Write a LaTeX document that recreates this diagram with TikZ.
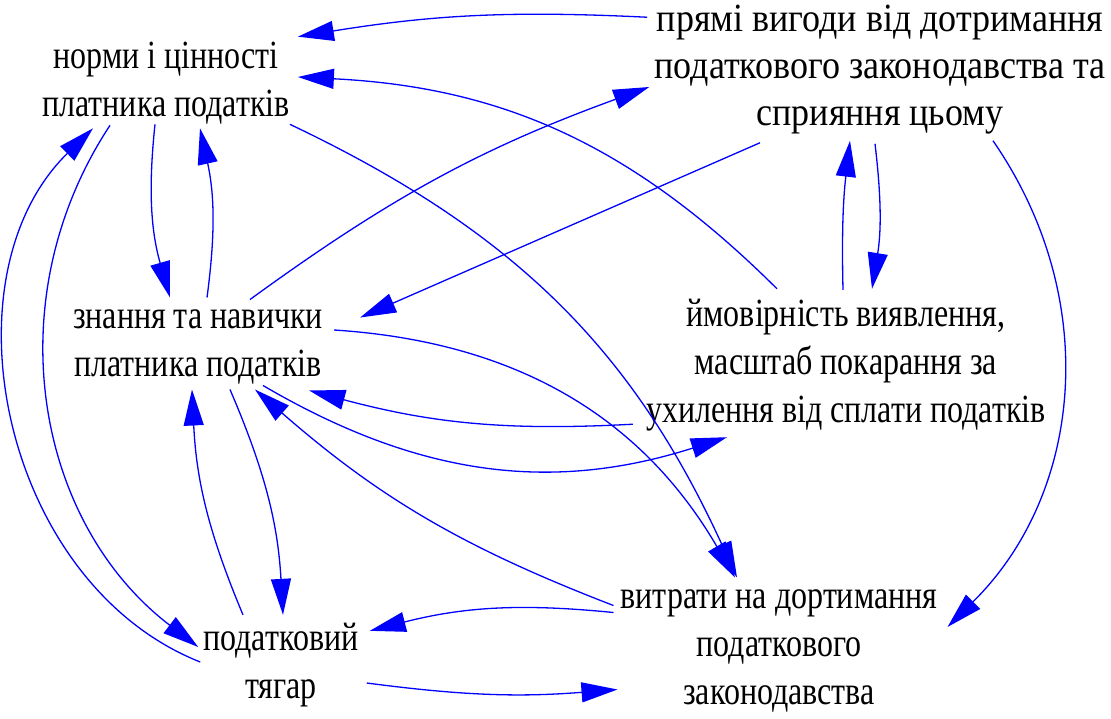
\documentclass[tikz,border=0pt]{standalone}
\usepackage{fontspec}
\setmainfont[FakeStretch=0.8]{Liberation Serif}
\newfontfamily\widefont[FakeStretch=0.9]{Liberation Serif}
\usetikzlibrary{arrows.meta}

\begin{document}
\begin{tikzpicture}[
  x=1pt, y=1pt,
  fact/.style={align=center, inner sep=0pt, text=black,
              font=\fontsize{40}{48}\selectfont},
  arw/.style={-{Triangle[length=36pt,width=20pt]}, blue, line width=1.3pt}
]
\useasboundingbox (0,0) rectangle (1111,-718);
\node[fact] (norms)  at (166,-83)  {норми і цінності\\платника податків};
\node[fact, font=\widefont\fontsize{40}{47}\selectfont] (gains) at (880,-70)
  {прямі вигоди від дотримання\\податкового законодавства та\\сприяння цьому};
\node[fact] (skills) at (198,-347) {знання та навички\\платника податків};
\node[fact] (risk)   at (846,-365) {ймовірність виявлення,\\масштаб покарання за\\ухилення від сплати податків};
\node[fact] (costs)  at (779,-651) {витрати на дортимання\\податкового\\законодавства};
\node[fact] (burden) at (281,-665) {податковий\\тягар};

% top
\draw[arw] ([xshift=-7,yshift=-12]gains.north west) to[bend right=6] ([xshift=8,yshift=5]norms.north east);
\draw[arw] ([xshift=-69,yshift=10]risk.north) to[bend right=21] ([xshift=8,yshift=6]norms.east);
\draw[arw] ([xshift=52,yshift=10]skills.north) to[bend left=8] ([xshift=-5,yshift=-17]gains.west);
\draw[arw] ([xshift=-120,yshift=-8]gains.south) -- ([xshift=37,yshift=-8]skills.north east);
\draw[arw] (norms.south east) to[bend left=20] ([xshift=-42,yshift=12]costs.north);
% pairs
\draw[arw] ([xshift=-11]norms.south) to[bend right=11] ([xshift=-28,yshift=12]skills.north);
\draw[arw] ([xshift=9,yshift=12]skills.north) to[bend right=10] ([xshift=34,yshift=-4]norms.south);
\draw[arw] ([xshift=-5,yshift=-9]gains.south) to[bend left=8] ([xshift=26,yshift=10]risk.north);
\draw[arw] ([xshift=-3,yshift=9]risk.north) to[bend left=4] ([xshift=-30,yshift=-6]gains.south);
\draw[arw] ([xshift=113,yshift=-6]gains.south) to[bend left=40] ([xshift=10,yshift=24]costs.east);
% middle
\draw[arw] ([xshift=11,yshift=17]skills.east) to[bend left=28] ([xshift=-44,yshift=12]costs.north);
\draw[arw] ([xshift=-13,yshift=7]risk.south west) to[bend left=9] ([xshift=-14,yshift=-6]skills.south east);
\draw[arw] ([xshift=65,yshift=-1]skills.south) to[bend right=24] ([xshift=81,yshift=-6]risk.south west);
\draw[arw] ([xshift=-7,yshift=-16]costs.north west) to[bend left=10] ([xshift=57,yshift=-5]skills.south);
% bottom
\draw[arw] ([xshift=-7,yshift=-23]costs.north west) to[bend right=10] ([xshift=11,yshift=-8]burden.north east);
\draw[arw] ([xshift=8,yshift=-18]burden.east) to[bend right=6] ([xshift=-3,yshift=23]costs.south west);
\draw[arw] ([xshift=32,yshift=-5]skills.south) to[bend left=10] ([xshift=2,yshift=8]burden.north);
\draw[arw] ([xshift=-38,yshift=8]burden.north) to[bend left=10] ([xshift=-6,yshift=-5]skills.south);
\draw[arw] ([xshift=-56,yshift=-1]norms.south) to[bend right=43] ([xshift=-5,yshift=18]burden.west);
\draw[arw] ([xshift=-3,yshift=3]burden.west) to[bend left=57] ([xshift=-73,yshift=-4]norms.south);
\end{tikzpicture}
\end{document}
